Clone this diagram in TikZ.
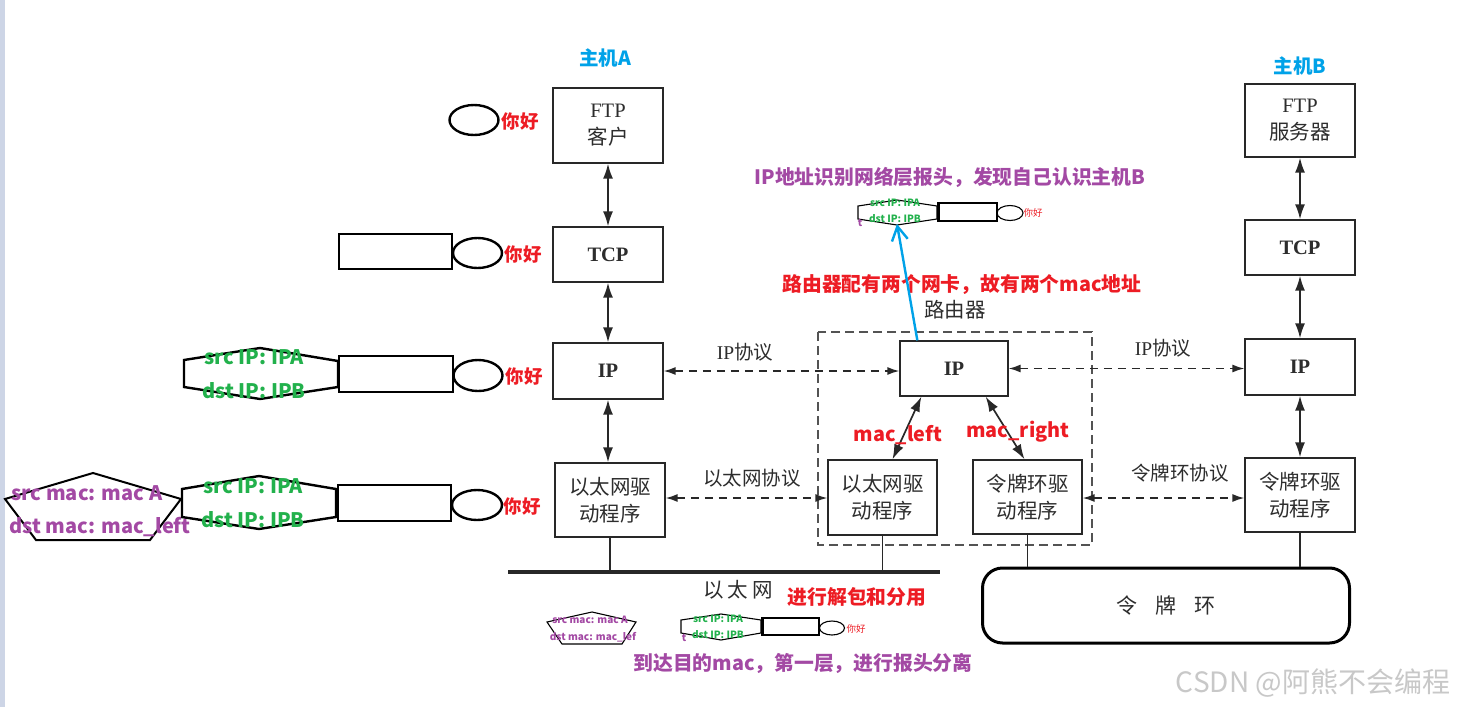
\documentclass[tikz,border=0pt]{standalone}
\usepackage{fontspec}
\setmainfont{Liberation Serif}
\newfontfamily\cjk{Noto Sans CJK SC}
\usetikzlibrary{arrows.meta}
\definecolor{hostc}{RGB}{0,162,232}
\definecolor{redc}{RGB}{237,28,36}
\definecolor{purc}{RGB}{163,73,164}
\definecolor{grnc}{RGB}{34,177,76}
\definecolor{boxc}{RGB}{40,40,40}
\definecolor{lblc}{RGB}{45,45,45}
\definecolor{wmc}{RGB}{200,200,200}
\definecolor{barc}{RGB}{205,213,230}
\begin{document}
\begin{tikzpicture}[x=1pt,y=-1pt,
  box/.style={draw=boxc,line width=1.3pt,inner sep=0pt,align=center,font=\fontsize{20.5}{27}\selectfont\cjk,text=lblc},
  lbl/.style={font=\fontsize{19.5}{22}\selectfont\cjk,text=lblc,inner sep=0pt},
  host/.style={font=\fontsize{19.5}{22}\selectfont\cjk\bfseries,text=hostc,inner sep=0pt},
  rednote/.style={font=\fontsize{19.8}{22}\selectfont\cjk\bfseries,text=redc,inner sep=0pt},
  purnote/.style={font=\fontsize{19.8}{22}\selectfont\cjk\bfseries,text=purc,inner sep=0pt},
  hello/.style={font=\fontsize{18.5}{20}\selectfont\cjk\bfseries,text=redc,inner sep=0pt},
  grn/.style={font=\fontsize{20}{22}\selectfont\cjk\bfseries,text=grnc,inner sep=0pt},
  pur/.style={font=\fontsize{20}{22}\selectfont\cjk\bfseries,text=purc,inner sep=0pt},
  sgrn/.style={font=\fontsize{10}{11}\selectfont\cjk\bfseries,text=grnc,inner sep=0pt},
  spur/.style={font=\fontsize{10}{11}\selectfont\cjk\bfseries,text=purc,inner sep=0pt},
  shello/.style={font=\fontsize{9.5}{10}\selectfont\cjk,text=redc,inner sep=0pt},
  vlink/.style={line width=1.7pt,draw=boxc,{Latex[length=15pt,width=10pt]}-{Latex[length=15pt,width=10pt]}},
  plink/.style={line width=1.5pt,draw=boxc,{Latex[length=12pt,width=8pt]}-{Latex[length=12pt,width=8pt]},dash pattern=on 8pt off 6pt},
  pkt/.style={line width=2.4pt,draw=black},
  spkt/.style={line width=1.1pt,draw=black},
]
\useasboundingbox (0,0) rectangle (1457,707);
\fill[white] (0,0) rectangle (1457,707);
\fill[barc] (0,0) rectangle (5,707);

% ---------- Host A ----------
\node[host] (hA) at (605,58) {主机A};
\node[box,minimum width=110pt,minimum height=75pt] (ftpA) at (608,125.5) {{\rmfamily FTP}\\客户};
\node[box,minimum width=110pt,minimum height=55pt] (tcpA) at (608,254.5) {\rmfamily\bfseries TCP};
\node[box,minimum width=110pt,minimum height=56pt] (ipA) at (608,371) {\rmfamily\bfseries IP};
\node[box,minimum width=110pt,minimum height=74pt] (ethA) at (610,500) {以太网驱\\动程序};
\draw[vlink] (ftpA) -- (tcpA);
\draw[vlink] (tcpA) -- (ipA);
\draw[vlink] (ipA.south) -- (ipA.south |- ethA.north);

% ---------- Router ----------
\node[lbl,font=\fontsize{20.5}{22}\selectfont\cjk] (rlab) at (955,310) {路由器};
\draw[draw=boxc!80,line width=1.4pt,dash pattern=on 9pt off 5pt] (818,332) rectangle (1092,545);
\node[box,minimum width=108pt,minimum height=55pt] (ipR) at (954,368.5) {\rmfamily\bfseries IP};
\node[box,minimum width=109pt,minimum height=75pt] (ethR) at (882.5,497.5) {以太网驱\\动程序};
\node[box,minimum width=109pt,minimum height=74pt] (tokR) at (1027.5,497) {令牌环驱\\动程序};
\draw[vlink] ([xshift=22pt]ipR.south west) -- ([xshift=10pt]ethR.north);
\draw[vlink] ([xshift=-23pt]ipR.south east) -- ([xshift=-3pt]tokR.north);
\node[rednote] (mL) at (898,435) {mac\_left};
\node[rednote] (mR) at (1018,432) {mac\_right};

% ---------- Host B ----------
\node[host] (hB) at (1300,66) {主机B};
\node[box,minimum width=110pt,minimum height=73pt] (ftpB) at (1300,120.5) {{\rmfamily FTP}\\服务器};
\node[box,minimum width=110pt,minimum height=55pt] (tcpB) at (1300,247.5) {\rmfamily\bfseries TCP};
\node[box,minimum width=110pt,minimum height=56pt] (ipB) at (1300,367) {\rmfamily\bfseries IP};
\node[box,minimum width=110pt,minimum height=74pt] (tokB) at (1300,495) {令牌环驱\\动程序};
\draw[vlink] (ftpB) -- (tcpB);
\draw[vlink] (tcpB) -- (ipB);
\draw[vlink] (ipB) -- (tokB);

% ---------- protocols ----------
\draw[plink] (ipA.east) -- (ipA.east -| ipR.west);
\node[lbl] (p1) at (745,352) {{\rmfamily IP}协议};
\draw[plink] (ipR.east) -- (ipR.east -| ipB.west);
\node[lbl] (p2) at (1163,348) {{\rmfamily IP}协议};
\draw[plink] ([yshift=2pt]ethA.east) -- ([yshift=2pt]ethA.east -| ethR.west);
\node[lbl] (p3) at (752,478) {以太网协议};
\draw[plink] ([yshift=-1pt]tokR.east) -- ([yshift=-1pt]tokR.east -| tokB.west);
\node[lbl] (p4) at (1180,473) {令牌环协议};

% ---------- networks ----------
\coordinate (ethL) at (508,572);
\coordinate (ethRt) at (940,572);
\draw[line width=3.8pt,boxc] (ethL) -- (ethRt);
\draw[line width=1.2pt,boxc] (ethA.south) -- (ethA.south |- ethL);
\draw[line width=1.2pt,boxc] (ethR.south) -- (ethR.south |- ethL);
\node[lbl,font=\fontsize{20.5}{22}\selectfont\cjk] (ethlab) at (738,590) {以\hspace{4pt}太\hspace{4pt}网};
\node[draw=black,line width=3pt,rounded corners=20pt,minimum width=367pt,minimum height=75pt,inner sep=0pt,
      font=\fontsize{21}{22}\selectfont\cjk,text=lblc] (ring) at (1166,605.5) {令\hspace{18pt}牌\hspace{18pt}环};
\draw[line width=1.2pt,boxc] (tokR.south) -- (tokR.south |- ring.north);
\draw[line width=1.2pt,boxc] (tokB.south) -- (tokB.south |- ring.north);

% ---------- notes ----------
\node[rednote] (n1) at (962,285) {路由器配有两个网卡，故有两个mac地址};
\node[purnote] (n2) at (950,177) {IP地址识别网络层报头，发现自己认识主机B};
\node[rednote] (n3) at (857,597) {进行解包和分用};
\node[purnote] (n4) at (803,663) {到达目的mac，第一层，进行报头分离};

% ---------- packets on the left ----------
% row 1
\draw[pkt] (474,120) ellipse [x radius=24.5pt,y radius=15pt];
\node[hello] (h1) at (520,122) {你好};
% row 2
\draw[pkt] (339,234) rectangle (452,269);
\draw[pkt] (477.5,253) ellipse [x radius=24.5pt,y radius=15pt];
\node[hello] (h2) at (523,255) {你好};
% row 3
\draw[pkt] (184,360) -- (260,348) -- (338,361) -- (338,387) -- (260,399) -- (184,387) -- cycle;
\node[grn] (g3a) at (254,357) {src IP: IPA};
\node[grn] (g3b) at (254,391) {dst IP: IPB};
\draw[pkt] (339,356) rectangle (453,392);
\draw[pkt] (478,375.5) ellipse [x radius=24.5pt,y radius=15.5pt];
\node[hello] (h3) at (524,377) {你好};
% row 4
\draw[pkt,line width=2pt] (93,473) -- (181,499) -- (150,540) -- (36,540) -- (5,499) -- cycle;
\node[pur] (m4a) at (87,493) {src mac: mac A};
\node[pur] (m4b) at (100,527) {dst mac: mac\_left};
\draw[pkt] (182,489) -- (259,476) -- (336,489) -- (336,517) -- (259,529) -- (182,517) -- cycle;
\node[grn] (g4a) at (253,486) {src IP: IPA};
\node[grn] (g4b) at (253,520) {dst IP: IPB};
\draw[pkt] (338,485) rectangle (451,521);
\draw[pkt] (477,505) ellipse [x radius=25pt,y radius=15pt];
\node[hello] (h4) at (522,507) {你好};

% ---------- small packet (router top) ----------
\draw[spkt] (858,206) -- (897,200) -- (937,206) -- (937,219) -- (897,225) -- (858,219) -- cycle;
\node[sgrn] (sg1) at (895,203) {src IP: IPA};
\node[sgrn] (sg2) at (895,219) {dst IP: IPB};
\node[spur] (st1) at (860,223) {t};
\draw[spkt] (938,203) rectangle (997,221);
\draw[line width=2pt] (938.5,203) -- (938.5,221);
\draw[spkt] (1010,213) ellipse [x radius=13pt,y radius=7.5pt];
\node[shello] (sh1) at (1033,213) {你好};
\coordinate (pkTop) at (897,224);
\draw[hostc,line width=2.4pt,-{Straight Barb[length=14pt,width=16pt,line width=2.4pt]}] ([xshift=18pt]ipR.north west) -- (pkTop);

% ---------- small packet (bottom) ----------
\draw[spkt] (592,612) -- (636,622) -- (622,644) -- (562,644) -- (547,622) -- cycle;
\node[spur] (sm1) at (590,620) {src mac: mac A};
\node[spur] (sm2) at (593,637) {dst mac: mac\_lef};
\draw[spkt] (681,620) -- (721,614) -- (761,620) -- (761,633) -- (721,640) -- (681,633) -- cycle;
\node[sgrn] (sg3) at (718,619) {src IP: IPA};
\node[sgrn] (sg4) at (718,635) {dst IP: IPB};
\node[spur] (st2) at (684,638) {t};
\draw[spkt] (762,618) rectangle (819,635);
\draw[line width=2pt] (762.5,618) -- (762.5,635);
\draw[spkt] (832,628) ellipse [x radius=12.5pt,y radius=7pt];
\node[shello] (sh2) at (856,629) {你好};

% ---------- watermark ----------
\node[font=\fontsize{28}{30}\selectfont\cjk,text=wmc,inner sep=0pt] (wm) at (1313,683) {CSDN @阿熊不会编程};
\end{tikzpicture}
\end{document}
